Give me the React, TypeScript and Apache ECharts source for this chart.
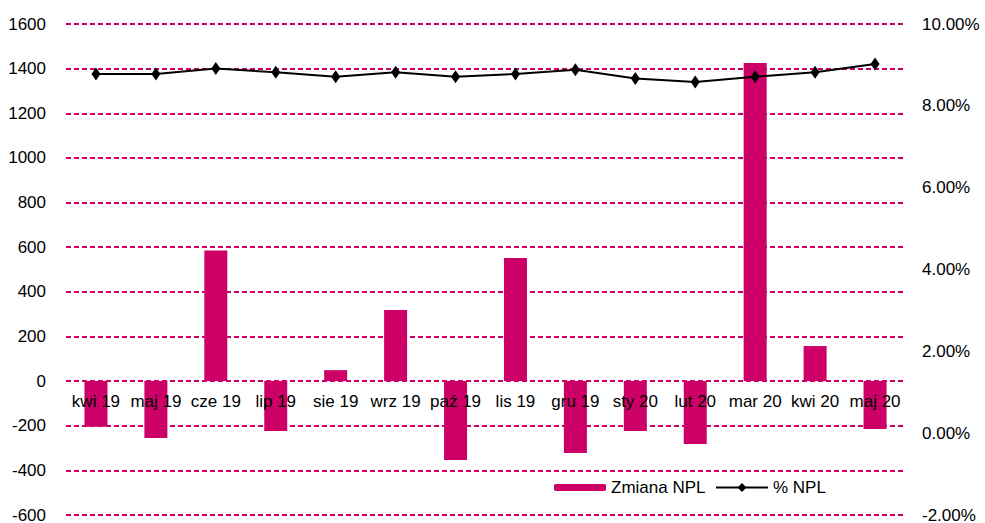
import React, { useEffect, useRef } from "react";
import * as echarts from "echarts";

const categories = [
  "kwi 19", "maj 19", "cze 19", "lip 19", "sie 19", "wrz 19", "paź 19",
  "lis 19", "gru 19", "sty 20", "lut 20", "mar 20", "kwi 20", "maj 20",
];
const zmianaNPL = [-205, -255, 585, -224, 49, 318, -354, 551, -322, -224, -282, 1425, 157, -215];
const procentNPL = [8.78, 8.78, 8.91, 8.82, 8.71, 8.82, 8.71, 8.78, 8.88, 8.67, 8.58, 8.71, 8.82, 9.02];

const FONT = "'Liberation Sans', Arial, sans-serif";
const MAGENTA = "#cc0066";

export default function App() {
  const ref = useRef<HTMLDivElement>(null);
  useEffect(() => {
    if (!ref.current) return;
    const chart = echarts.init(ref.current, null, { renderer: "svg" });
    chart.setOption({
      animation: false,
      backgroundColor: "#ffffff",
      textStyle: { fontFamily: FONT },
      grid: { left: 66, right: 80, top: 24, bottom: 8, containLabel: false, outerBoundsMode: "none" },
      legend: [
        {
          data: ["Zmiana NPL"],
          left: 549,
          top: 474,
          itemWidth: 52,
          itemHeight: 7,
          itemGap: 0,
          textStyle: { fontSize: 17, color: "#000", fontFamily: FONT },
        },
        {
          data: ["% NPL"],
          left: 710,
          top: 474,
          itemWidth: 52,
          itemHeight: 11,
          itemGap: 0,
          textStyle: { fontSize: 17, color: "#000", fontFamily: FONT },
        },
      ],
      xAxis: {
        type: "category",
        data: categories,
        offset: -134,
        axisLine: { show: false, onZero: false },
        axisTick: { show: false },
        axisLabel: { interval: 0, fontSize: 17, color: "#000", fontFamily: FONT, margin: 12 },
        splitLine: { show: false },
        z: 10,
      },
      yAxis: [
        {
          type: "value",
          min: -600,
          max: 1600,
          interval: 200,
          axisLine: { show: false },
          axisTick: { show: false },
          axisLabel: {
            fontSize: 17,
            color: "#000",
            fontFamily: FONT,
            margin: 20,
            formatter: (v: number) => String(v),
          },
          splitLine: { show: true, lineStyle: { color: MAGENTA, width: 1.8, type: [5, 3] } },
        },
        {
          type: "value",
          min: -2,
          max: 10,
          interval: 2,
          position: "right",
          axisLine: { show: false },
          axisTick: { show: false },
          axisLabel: {
            fontSize: 17,
            color: "#000",
            fontFamily: FONT,
            margin: 17,
            formatter: (v: number) => v.toFixed(2) + "%",
          },
          splitLine: { show: false },
        },
      ],
      series: [
        {
          name: "Zmiana NPL",
          type: "bar",
          data: zmianaNPL,
          yAxisIndex: 0,
          barWidth: 23,
          itemStyle: { color: MAGENTA },
        },
        {
          name: "% NPL",
          type: "line",
          data: procentNPL,
          yAxisIndex: 1,
          symbol: "diamond",
          symbolSize: [9, 13],
          z: 5,
          lineStyle: { color: "#000", width: 2 },
          itemStyle: { color: "#000" },
        },
      ],
    });
    return () => chart.dispose();
  }, []);
  return (
    <div
      ref={ref}
      style={{ position: "absolute", left: 0, top: 0, width: 985, height: 523 }}
    />
  );
}
